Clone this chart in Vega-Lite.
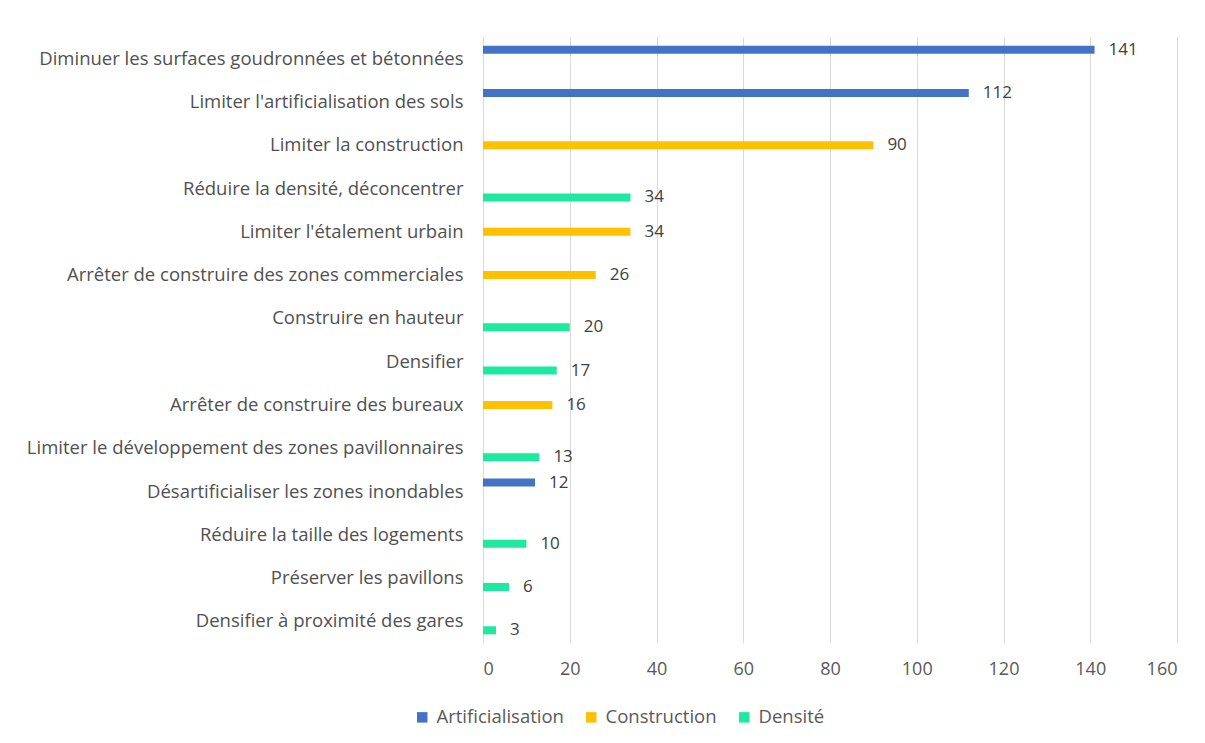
{
  "$schema": "https://vega.github.io/schema/vega-lite/v6.json",
  "autosize": {"type": "none"},
  "width": 694,
  "height": 606,
  "padding": {"left": 483, "top": 37, "right": 28, "bottom": 100},
  "background": "white",
  "config": {
    "view": {"stroke": null},
    "font": "Open Sans"
  },
  "data": {
    "values": [
      {"action": "Diminuer les surfaces goudronnées et bétonnées", "serie": "Artificialisation", "n": 141},
      {"action": "Limiter l'artificialisation des sols", "serie": "Artificialisation", "n": 112},
      {"action": "Limiter la construction", "serie": "Construction", "n": 90},
      {"action": "Réduire la densité, déconcentrer", "serie": "Densité", "n": 34},
      {"action": "Limiter l'étalement urbain", "serie": "Construction", "n": 34},
      {"action": "Arrêter de construire des zones commerciales", "serie": "Construction", "n": 26},
      {"action": "Construire en hauteur", "serie": "Densité", "n": 20},
      {"action": "Densifier", "serie": "Densité", "n": 17},
      {"action": "Arrêter de construire des bureaux", "serie": "Construction", "n": 16},
      {"action": "Limiter le développement des zones pavillonnaires", "serie": "Densité", "n": 13},
      {"action": "Désartificialiser les zones inondables", "serie": "Artificialisation", "n": 12},
      {"action": "Réduire la taille des logements", "serie": "Densité", "n": 10},
      {"action": "Préserver les pavillons", "serie": "Densité", "n": 6},
      {"action": "Densifier à proximité des gares", "serie": "Densité", "n": 3}
    ]
  },
  "encoding": {
    "y": {
      "field": "action",
      "type": "nominal",
      "sort": null,
      "scale": {"paddingInner": 0.38, "paddingOuter": 0.19},
      "axis": {
        "title": null,
        "domain": false,
        "ticks": false,
        "labelPadding": 20,
        "labelFontSize": 18.5,
        "labelColor": "#505050",
        "labelLimit": 600
      }
    },
    "yOffset": {
      "field": "serie",
      "type": "nominal",
      "scale": {"domain": ["Artificialisation", "Construction", "Densité"], "paddingInner": 0.1, "paddingOuter": 0.05}
    },
    "x": {
      "field": "n",
      "type": "quantitative",
      "scale": {"domain": [0, 160], "nice": false},
      "axis": {
        "title": null,
        "values": [0, 20, 40, 60, 80, 100, 120, 140, 160],
        "grid": true,
        "gridColor": "#d9d9d9",
        "domain": false,
        "ticks": false,
        "labelPadding": 17,
        "labelFontSize": 18,
        "labelColor": "#595959"
      }
    }
  },
  "layer": [
    {
      "mark": {"type": "bar"},
      "encoding": {
        "color": {
          "field": "serie",
          "type": "nominal",
          "scale": {"domain": ["Artificialisation", "Construction", "Densité"], "range": ["#4472C4", "#FFC000", "#1DE9A0"]},
          "legend": {
            "title": null,
            "orient": "none",
            "direction": "horizontal",
            "legendX": -70,
            "legendY": 671,
            "symbolType": "square",
            "symbolSize": 110,
            "symbolStrokeWidth": 0,
            "labelFontSize": 18.5,
            "labelColor": "#595959",
            "labelOffset": 5,
            "columnPadding": 18
          }
        }
      }
    },
    {
      "mark": {"type": "text", "align": "left", "baseline": "middle", "dx": 14, "fontSize": 17, "color": "#404040"},
      "encoding": {
        "text": {"field": "n", "type": "quantitative"}
      }
    }
  ]
}
